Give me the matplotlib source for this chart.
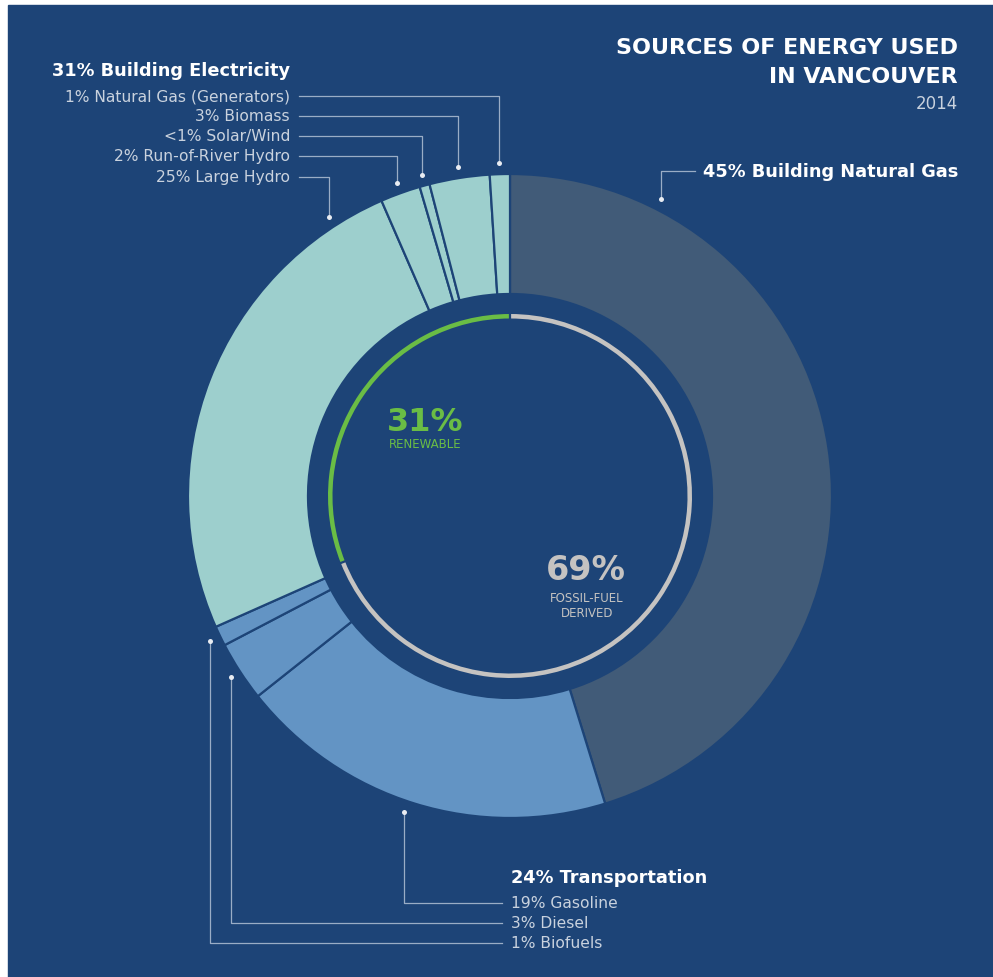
import matplotlib.pyplot as plt
from matplotlib.patches import Rectangle
import numpy as np

plt.rc("font", family="DejaVu Sans")

W, H = 993, 978

navy = "#1d4477"
slate = "#415b78"
steel_blue = "#6394c4"
pale_teal = "#9dcfcd"
leaf_green = "#6abd45"
ring_grey = "#c5c3c1"
label_grey = "#c9d2de"
leader_grey = "#9aadc6"
dot_white = "#e8ecf2"

# outer ring, clockwise from 12 o'clock
segments = [
    "Building Natural Gas",
    "Gasoline",
    "Diesel",
    "Biofuels",
    "Large Hydro",
    "Run-of-River Hydro",
    "Solar/Wind",
    "Biomass",
    "Natural Gas (Generators)",
]
shares = [45, 19, 3, 1, 25, 2, 0.5, 3, 1]
sector = ["gas", "transport", "transport", "transport",
          "elec", "elec", "elec", "elec", "elec"]

# inner ring: renewable vs fossil
renewable_split = [31, 69]

elec_title = "31% Building Electricity"
elec_labels = [
    "1% Natural Gas (Generators)",
    "3% Biomass",
    "<1% Solar/Wind",
    "2% Run-of-River Hydro",
    "25% Large Hydro",
]
elec_slices = [8, 7, 6, 5, 4]

transport_title = "24% Transportation"
transport_labels = ["19% Gasoline", "3% Diesel", "1% Biofuels"]
transport_slices = [1, 2, 3]

gas_title = "45% Building Natural Gas"

sector_colors = {"gas": slate, "transport": steel_blue, "elec": pale_teal}


def img_y(y):
    # layout below is measured from the top edge
    return H - y


fig = plt.figure(figsize=(W / 100, H / 100), dpi=100, facecolor="white")
ax = fig.add_axes([0, 0, 1, 1])
ax.add_patch(Rectangle((8, 0), W - 8, H - 6, color=navy, zorder=0))

cx, cy = 510, img_y(497)
r_out = 322
r_anchor = 333

wedges, _ = ax.pie(
    shares,
    radius=r_out,
    center=(cx, cy),
    startangle=90,
    counterclock=False,
    colors=[sector_colors[s] for s in sector],
    wedgeprops=dict(width=120, edgecolor=navy, linewidth=1.6),
)

ring, _ = ax.pie(
    renewable_split,
    radius=182,
    center=(cx, cy),
    startangle=90,
    counterclock=True,
    colors=[leaf_green, ring_grey],
    wedgeprops=dict(width=4.5, linewidth=0),
)
# small gaps where the two arcs meet
for ang in [ring[0].theta1, ring[0].theta2]:
    a = np.deg2rad(ang)
    ax.plot([cx + 174 * np.cos(a), cx + 186 * np.cos(a)],
            [cy + 174 * np.sin(a), cy + 186 * np.sin(a)],
            color=navy, lw=1.6, solid_capstyle="butt")


def mid_angle(i):
    w = wedges[i]
    return 0.5 * (w.theta1 + w.theta2)


def anchor(angle):
    a = np.deg2rad(angle)
    return cx + r_anchor * np.cos(a), cy + r_anchor * np.sin(a)


def leader(xs, ys, dot):
    ax.plot(xs, ys, color=leader_grey, lw=0.9, zorder=3)
    ax.plot(*dot, "o", color=dot_white, ms=3.6, mec="none", zorder=4)


head_size = 12.8
sub_size = 11.2

# building electricity, top left
ax.text(290, img_y(71), elec_title, ha="right", va="center",
        color="white", fontsize=head_size, fontweight="bold")
label_rows = [97, 117, 137, 157, 178]
for txt, row, i in zip(elec_labels, label_rows, elec_slices):
    ang = mid_angle(i) if txt != "25% Large Hydro" else 123
    px, py = anchor(ang)
    ty = img_y(row)
    ax.text(290, ty, txt, ha="right", va="center", color=label_grey, fontsize=sub_size)
    leader([299, px, px], [ty, ty, py], (px, py))

# building natural gas, top right
ax.text(958, img_y(172), gas_title, ha="right", va="center",
        color="white", fontsize=head_size, fontweight="bold")
px, py = anchor(63)
leader([695, px, px], [img_y(172), img_y(172), py], (px, py))

# transportation, bottom
ax.text(511, img_y(878), transport_title, ha="left", va="center",
        color="white", fontsize=head_size, fontweight="bold")
bottom_rows = [904, 924, 944]
for txt, row, i in zip(transport_labels, bottom_rows, transport_slices):
    ang = mid_angle(i) if txt != "19% Gasoline" else 251.5
    px, py = anchor(ang)
    ty = img_y(row)
    ax.text(511, ty, txt, ha="left", va="center", color=label_grey, fontsize=sub_size)
    leader([px, px, 502], [py, ty, ty], (px, py))

# title block
ax.text(958, img_y(48), "SOURCES OF ENERGY USED", ha="right", va="center",
        color="white", fontsize=16, fontweight="bold")
ax.text(958, img_y(77), "IN VANCOUVER", ha="right", va="center",
        color="white", fontsize=16, fontweight="bold")
ax.text(958, img_y(104), "2014", ha="right", va="center",
        color=label_grey, fontsize=12)

# centre figures
ax.text(425, img_y(431), "31%", ha="center", va="baseline",
        color=leaf_green, fontsize=23, fontweight="bold")
ax.text(425, img_y(448), "RENEWABLE", ha="center", va="baseline",
        color=leaf_green, fontsize=8.5)
ax.text(586, img_y(580), "69%", ha="center", va="baseline",
        color=ring_grey, fontsize=24, fontweight="bold")
ax.text(587, img_y(602), "FOSSIL-FUEL", ha="center", va="baseline",
        color=ring_grey, fontsize=8.5)
ax.text(587, img_y(617), "DERIVED", ha="center", va="baseline",
        color=ring_grey, fontsize=8.5)

ax.set_xlim(0, W)
ax.set_ylim(0, H)
ax.set_aspect("equal")
ax.axis("off")

fig.savefig("out.png", dpi=100, facecolor="white")
